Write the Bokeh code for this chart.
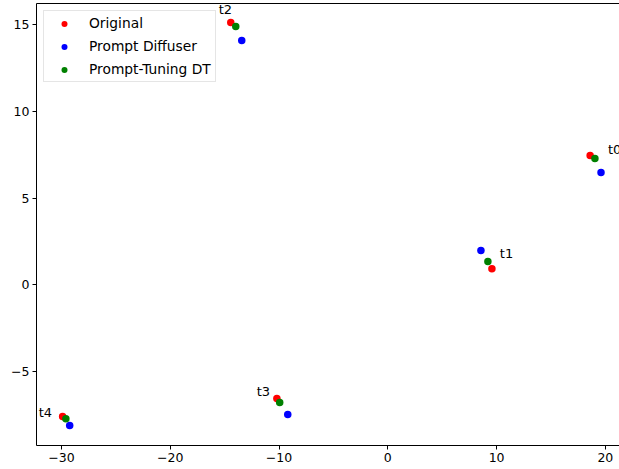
from bokeh.plotting import figure
from bokeh.models import ColumnDataSource, LinearAxis, FixedTicker
from bokeh.core.properties import value
from bokeh.embed import file_html
from bokeh.resources import INLINE

tasks = ["t0", "t1", "t2", "t3", "t4"]
orig_x = [18.6, 9.57, -14.44, -10.2, -29.9]
orig_y = [7.46, 0.92, 15.14, -6.59, -7.63]
diff_x = [19.6, 8.56, -13.43, -9.2, -29.25]
diff_y = [6.47, 1.97, 14.1, -7.51, -8.15]
ptdt_x = [19.04, 9.2, -13.98, -9.94, -29.6]
ptdt_y = [7.28, 1.33, 14.91, -6.82, -7.75]
label_x = [20.24, 10.3, -15.55, -12.05, -32.1]
label_y = [7.8, 1.79, 15.9, -6.18, -7.4]
x_ticks = [-30, -20, -10, 0, 10, 20]
y_ticks = [-5, 0, 5, 10, 15]

FONT = "DejaVu Sans"

p = figure(width=619, height=469, output_backend="svg", toolbar_location=None,
           x_range=(-32.3, 21.3), y_range=(-9.3, 16.24),
           min_border_left=36, min_border_right=0, min_border_top=3, min_border_bottom=24)
p.outline_line_color = None
p.grid.visible = False
p.background_fill_color = "white"

def style_axis(ax, ticks):
    ax.ticker = FixedTicker(ticks=ticks)
    ax.major_label_overrides = {t: (str(t).replace("-", "\u2212")) for t in ticks}
    ax.minor_tick_line_color = None
    ax.major_tick_in = 0
    ax.major_tick_out = 4
    ax.axis_line_color = "black"
    ax.major_tick_line_color = "black"
    ax.major_label_text_font = FONT
    ax.major_label_text_font_size = "12.5px"
    ax.major_label_text_color = "black"
    ax.major_label_standoff = 3

style_axis(p.xaxis[0], x_ticks)
style_axis(p.yaxis[0], y_ticks)

top = LinearAxis(major_tick_line_color=None, minor_tick_line_color=None,
                 major_label_text_font_size="0px", axis_line_color="black")
top.ticker = FixedTicker(ticks=[])
p.add_layout(top, "above")

s_orig = ColumnDataSource(dict(x=orig_x, y=orig_y))
s_diff = ColumnDataSource(dict(x=diff_x, y=diff_y))
s_ptdt = ColumnDataSource(dict(x=ptdt_x, y=ptdt_y))
p.scatter("x", "y", source=s_orig, size=7.5, color="#ff0000", line_color=None, legend_label="Original")
p.scatter("x", "y", source=s_diff, size=7.5, color="#0000ff", line_color=None, legend_label="Prompt Diffuser")
p.scatter("x", "y", source=s_ptdt, size=7.5, color="#008000", line_color=None, legend_label="Prompt-Tuning DT")

s_lab = ColumnDataSource(dict(x=label_x, y=label_y, t=tasks))
p.text("x", "y", text="t", source=s_lab, text_font=value(FONT), text_font_size="13px",
       text_color="black", text_baseline="middle", text_align="left")

lg = p.legend[0]
lg.location = "top_left"
lg.margin = 7
lg.padding = 4
lg.spacing = 7
lg.glyph_width = 32
lg.glyph_height = 15
lg.label_height = 15
lg.label_standoff = 9
lg.label_text_font = FONT
lg.label_text_font_size = "13.8px"
lg.label_text_color = "black"
lg.border_line_color = "#cccccc"
lg.background_fill_alpha = 0.8

open("out.html", "w").write(file_html(p, INLINE))
